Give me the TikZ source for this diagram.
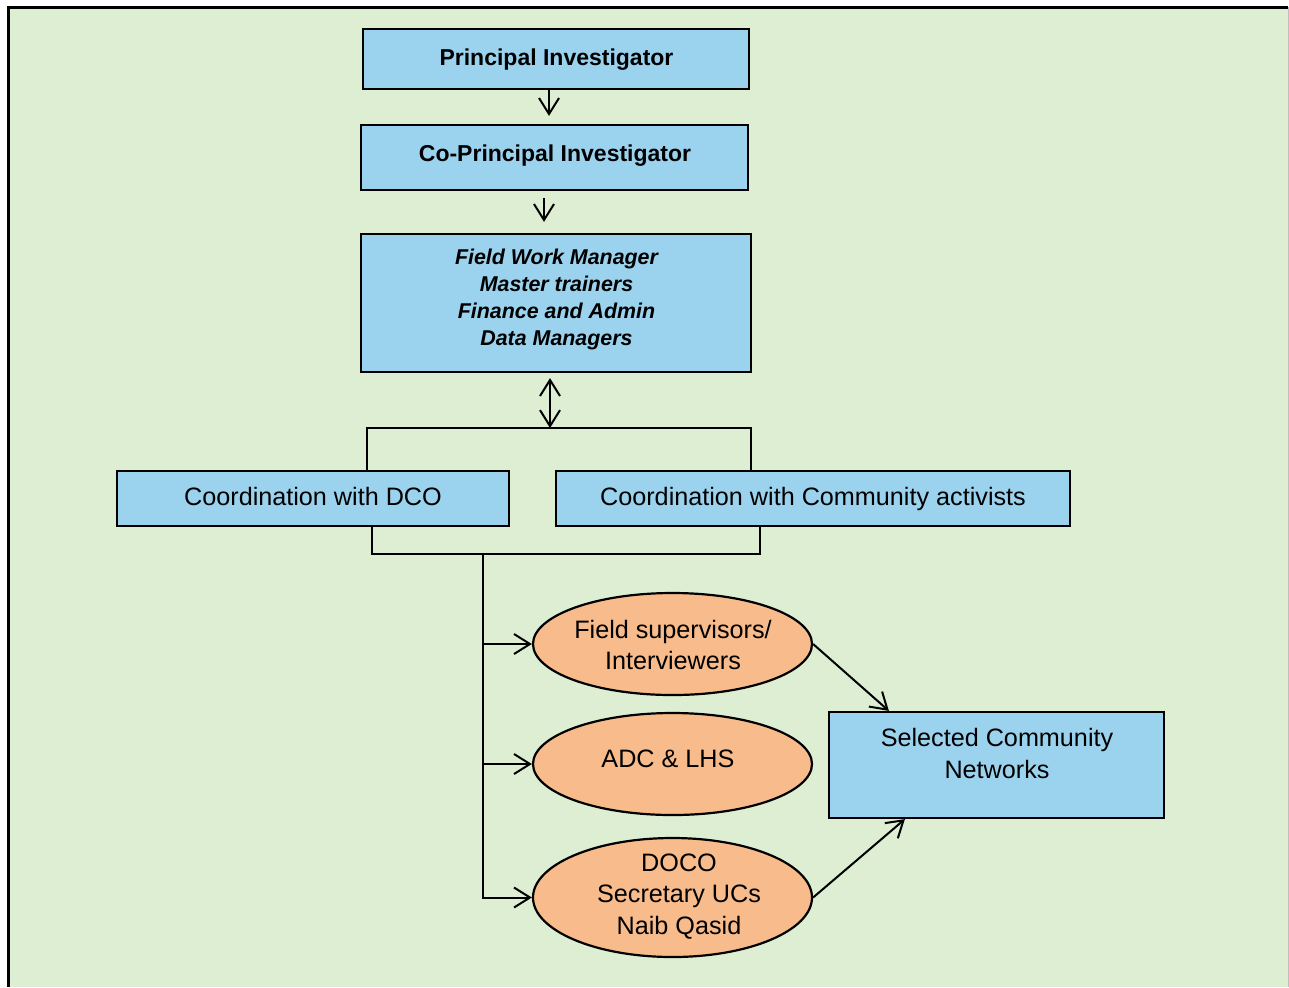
\documentclass[tikz,border=0pt]{standalone}
\usepackage{fontspec}
\setmainfont{Liberation Sans}
\usetikzlibrary{arrows.meta,shapes.geometric}
\definecolor{bggreen}{RGB}{221,238,211}
\definecolor{boxblue}{RGB}{155,211,239}
\definecolor{ovalorange}{RGB}{248,187,139}
\begin{document}
\begin{tikzpicture}[x=0.5pt,y=-0.5pt,
  box/.style={draw=black,line width=1.1pt,fill=boxblue,inner sep=0pt,align=center},
  oval/.style={ellipse,draw=black,line width=1.1pt,fill=ovalorange,inner sep=0pt,
    minimum width=139.5pt,minimum height=51pt},
  txt/.style={inner sep=0pt,align=center,font=\fontsize{12.6}{15.5}\selectfont},
  headtxt/.style={inner sep=0pt,align=center,font=\fontsize{11.5}{14}\selectfont\bfseries},
  stafftxt/.style={inner sep=0pt,align=center,font=\fontsize{10.7}{13.5}\selectfont\bfseries\itshape},
  link/.style={line width=1pt},
  arr/.style={link,-{Straight Barb[length=8pt,width=10pt]}},
  dblarr/.style={link,{Straight Barb[length=8pt,width=10pt]}-{Straight Barb[length=8pt,width=10pt]}},
]
\useasboundingbox (0,0) rectangle (1289,987);
% page and framed panel
\fill[white] (0,0) rectangle (1289,987);
\fill[bggreen] (8,7) rectangle (1288,987);
\draw[line width=1.5pt] (8,987) -- (8,7) -- (1288,7);
\draw[line width=0.5pt,color=black!25] (1288,7) -- (1288,987);

% management chain
\node[box,minimum width=193pt,minimum height=30pt] (pi) at (556,59) {};
\node[headtxt,anchor=base] (pitext) at (556.5,65) {Principal Investigator};
\node[box,minimum width=193.5pt,minimum height=32.5pt] (copi) at (554.5,157.5) {};
\node[headtxt,anchor=base] (copitext) at (555,161) {Co-Principal Investigator};
\node[box,minimum width=195pt,minimum height=69pt] (staff) at (556,303) {};
\node[stafftxt] (stafftext) at (556.5,299) {Field Work Manager\\Master trainers\\Finance and Admin\\Data Managers};

% coordination boxes
\node[box,minimum width=196pt,minimum height=27.5pt] (dco) at (313,498.5) {};
\node[txt,anchor=base] (dcotext) at (313,505.5) {Coordination with DCO};
\node[box,minimum width=257pt,minimum height=27.5pt] (comm) at (813,498.5) {};
\node[txt,anchor=base] (commtext) at (813,505.5) {Coordination with Community activists};

% field teams
\node[oval] (e1) at (672.5,644) {};
\node[txt] (e1text) at (673,645) {Field supervisors/\\Interviewers};
\node[oval] (e2) at (672.5,764) {};
\node[txt,anchor=base] (e2text) at (668,767.5) {ADC \& LHS};
\node[oval,minimum height=59.5pt] (e3) at (672.5,897.5) {};
\node[txt,font=\fontsize{12.6}{15.8}\selectfont] (e3text) at (679,896.5) {DOCO\\Secretary UCs\\Naib Qasid};

% target
\node[box,minimum width=167.5pt,minimum height=53pt] (sel) at (996.5,765) {};
\node[txt,font=\fontsize{12.6}{16}\selectfont] (seltext) at (997,753.5) {Selected Community\\Networks};

% junction points
\coordinate (hub) at (550,428);
\coordinate (jl) at (367,428);
\coordinate (jr) at (751,428);
\coordinate (bl) at (372,554);
\coordinate (br) at (760,554);
\coordinate (trunk) at (483,554);

% connectors
\draw[arr,shorten >=4pt] ([xshift=-3.5pt]pi.south) -- ([xshift=-3.5pt]pi.south |- copi.north);
\draw[arr,shorten <=3.5pt,shorten >=5.5pt] ([xshift=-5.25pt]copi.south) -- ([xshift=-5.25pt]copi.south |- staff.north);
\draw[dblarr,shorten <=2.5pt] (staff.south -| hub) -- (hub);
\draw[link] (dco.north -| jl) -- (jl) -- (jr) -- (comm.north -| jr);
\draw[link] (dco.south -| bl) -- (bl) -- (br) -- (comm.south -| br);
\draw[arr] (trunk) -- (e3.west -| trunk) -- (e3.west);
\draw[arr] (e1.west -| trunk) -- (e1.west);
\draw[arr] (e2.west -| trunk) -- (e2.west);
\draw[arr] (e1.east) -- ([xshift=30.5pt]sel.north west);
\draw[arr] (e3.east) -- ([xshift=38.5pt]sel.south west);
\end{tikzpicture}
\end{document}
